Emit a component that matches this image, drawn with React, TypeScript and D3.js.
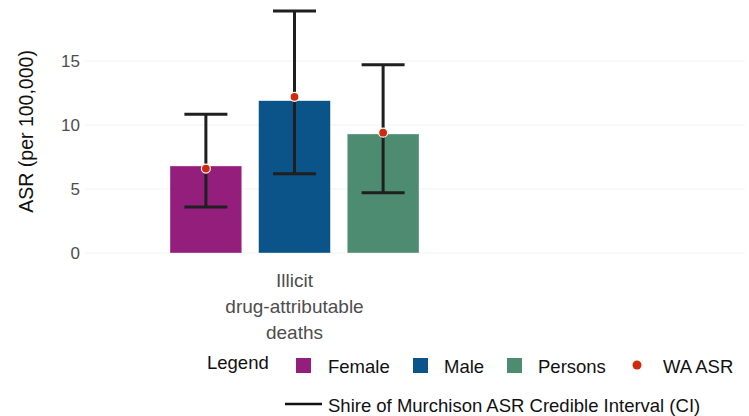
import React from "react";
import * as d3 from "d3";

const categories = ["Illicit drug-attributable deaths"];
const categoryLines = ["Illicit", "drug-attributable", "deaths"];
const series = ["Female", "Male", "Persons"];
const asrValues = [6.8, 11.9, 9.3];
const ciLower = [3.6, 6.2, 4.7];
const ciUpper = [10.85, 18.9, 14.7];
const waAsr = [6.6, 12.2, 9.4];
const yTicks = [0, 5, 10, 15];
const colors = ["#941e7c", "#0b5489", "#4e8c71"];
const dotColor = "#d02a0c";

const W = 749;
const H = 416;
const FONT = "Liberation Sans, Arial, sans-serif";

export default function App() {
  const y = d3.scaleLinear().domain([0, 19.3]).range([253, 6]);
  const xOuter = d3.scaleBand().domain(categories).range([170, 419]).padding(0);
  const xInner = d3
    .scaleBand()
    .domain(series)
    .range([0, xOuter.bandwidth()])
    .paddingInner(0.19)
    .paddingOuter(0);
  const bw = xInner.bandwidth();
  const capHalf = 21.5;

  const legendItems = [
    { label: "Female", x: 296, tx: 328, type: "rect", color: colors[0] },
    { label: "Male", x: 413, tx: 444, type: "rect", color: colors[1] },
    { label: "Persons", x: 507, tx: 538, type: "rect", color: colors[2] },
    { label: "WA ASR", x: 631, tx: 663, type: "dot", color: dotColor },
  ];

  return (
    <svg
      width={W}
      height={H}
      style={{ position: "absolute", left: 0, top: 0, background: "#fff" }}
      fontFamily={FONT}
    >
      {/* grid */}
      {yTicks.map((t) => (
        <line
          key={"g" + t}
          x1={85}
          x2={745}
          y1={y(t)}
          y2={y(t)}
          stroke="#f3f3f3"
          strokeWidth={1}
        />
      ))}
      {/* y tick labels */}
      {yTicks.map((t) => (
        <text
          key={"t" + t}
          x={80}
          y={y(t)}
          dy="0.36em"
          textAnchor="end"
          fontSize={17}
          fill="#4d4d4d"
        >
          {t}
        </text>
      ))}
      {/* y title */}
      <text
        transform={`translate(33, ${y(9.5)}) rotate(-90)`}
        textAnchor="middle"
        fontSize={19.5}
        fill="#111"
      >
        ASR (per 100,000)
      </text>

      {/* bars */}
      {series.map((s, i) => {
        const x0 = (xOuter(categories[0]) as number) + (xInner(s) as number);
        return (
          <rect
            key={"b" + s}
            x={x0}
            y={y(asrValues[i])}
            width={bw}
            height={y(0) - y(asrValues[i])}
            fill={colors[i]}
            stroke="#ffffff"
            strokeOpacity={0.6}
            strokeWidth={0.6}
          />
        );
      })}
      {/* error bars */}
      {series.map((s, i) => {
        const cx = (xOuter(categories[0]) as number) + (xInner(s) as number) + bw / 2;
        return (
          <g key={"e" + s} stroke="#1f1f1f" strokeWidth={3}>
            <line x1={cx} x2={cx} y1={y(ciLower[i])} y2={y(ciUpper[i])} />
            <line x1={cx - capHalf} x2={cx + capHalf} y1={y(ciUpper[i])} y2={y(ciUpper[i])} />
            <line x1={cx - capHalf} x2={cx + capHalf} y1={y(ciLower[i])} y2={y(ciLower[i])} />
          </g>
        );
      })}
      {/* WA points */}
      {series.map((s, i) => {
        const cx = (xOuter(categories[0]) as number) + (xInner(s) as number) + bw / 2;
        return (
          <circle
            key={"p" + s}
            cx={cx}
            cy={y(waAsr[i])}
            r={4.5}
            fill={dotColor}
            stroke="#ffffff"
            strokeWidth={1.2}
          />
        );
      })}

      {/* x labels */}
      {categoryLines.map((l, i) => (
        <text
          key={"x" + i}
          x={(xOuter(categories[0]) as number) + xOuter.bandwidth() / 2}
          y={280 + i * 26}
          dy="0.36em"
          textAnchor="middle"
          fontSize={19}
          fill="#4d4d4d"
        >
          {l}
        </text>
      ))}

      {/* legend */}
      <text x={207} y={362} dy="0.36em" fontSize={18.5} fill="#111">
        Legend
      </text>
      {legendItems.map((it) => (
        <g key={"l" + it.label}>
          {it.type === "rect" ? (
            <rect x={it.x} y={358} width={15} height={15} fill={it.color} />
          ) : (
            <circle cx={it.x + 6} cy={365} r={4.5} fill={it.color} />
          )}
          <text x={it.tx} y={366} dy="0.36em" fontSize={18.5} fill="#111">
            {it.label}
          </text>
        </g>
      ))}
      <line x1={285} x2={322} y1={404} y2={404} stroke="#111" strokeWidth={2.5} />
      <text x={328} y={405} dy="0.36em" fontSize={18.5} fill="#111">
        Shire of Murchison ASR Credible Interval (CI)
      </text>
    </svg>
  );
}
